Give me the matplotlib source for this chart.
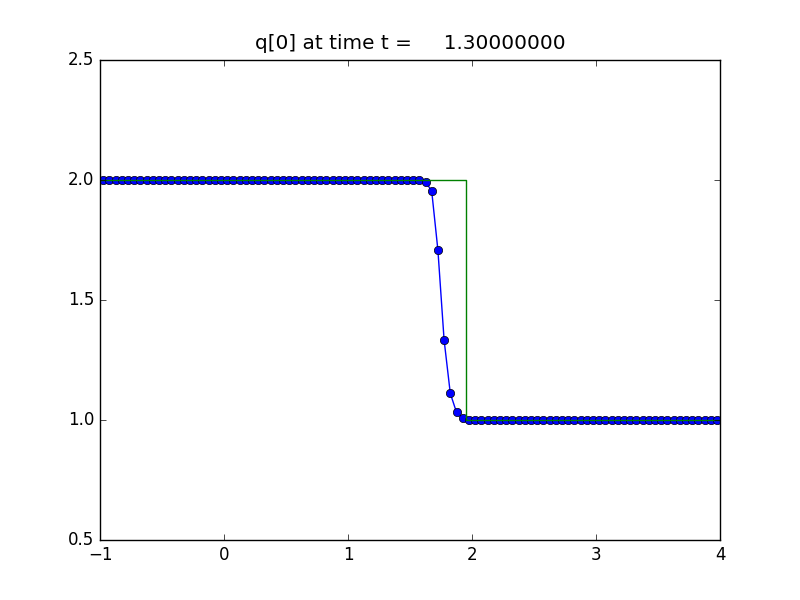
import numpy as np
import matplotlib
matplotlib.use('Agg')
import matplotlib.pyplot as plt

plt.style.use('classic')

#-------------------------------------------------------------------------------
# Numerical solution q[0] at cell centers (dx = 0.05 on [-1, 4])
t_final = 1.3
x_cells = np.linspace(-0.975, 3.975, 100)
q_num = ([2.0] * 51
         + [1.9995, 1.993, 1.954, 1.708, 1.333, 1.111, 1.032, 1.007, 1.001]
         + [1.0] * 40)

# Exact solution: shock between q_left = 2 and q_right = 1
x_true = [-1.0, 1.95, 1.95, 4.0]
q_true = [2.0, 2.0, 1.0, 1.0]
#-------------------------------------------------------------------------------

fig = plt.figure(figsize=(8, 6), dpi=100)
ax  = fig.add_subplot(111)

ax.plot(x_cells, q_num, 'bo-')
ax.plot(x_true, q_true, 'g-')

ax.set_xlim(-1, 4)
ax.set_ylim(0.5, 2.5)
ax.set_title('q[0] at time t = %14.8f' % t_final, pad=8)

fig.savefig('out.png', dpi=100)
